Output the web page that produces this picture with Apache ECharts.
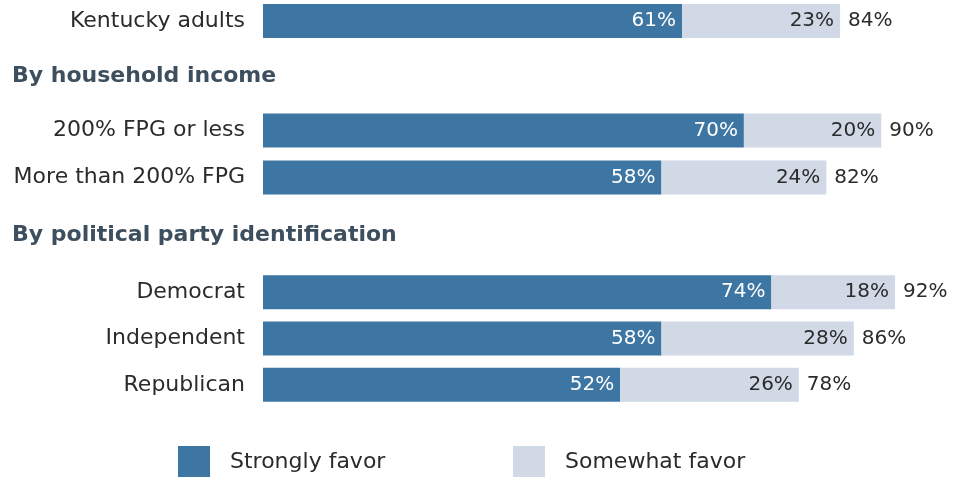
<!DOCTYPE html>
<html>
<head>
<meta charset="utf-8">
<script src="https://cdn.jsdelivr.net/npm/echarts@6/dist/echarts.min.js"></script>
<style>
  html, body { margin: 0; padding: 0; background: #fff; }
  #chart { width: 963px; height: 477px; }
</style>
</head>
<body>
<div id="chart"></div>
<script>
// groups of rows, each drawn in its own grid
const groupTitles = ['', 'By household income', 'By political party identification']
const groupCats = [
  ['Kentucky adults'],
  ['200% FPG or less', 'More than 200% FPG'],
  ['Democrat', 'Independent', 'Republican']
]
const strongVals = [[61], [70, 58], [74, 58, 52]]
const someVals = [[23], [20, 24], [18, 28, 26]]
const totalVals = [[84], [90, 82], [92, 86, 78]]

const FONT = 'DejaVu Sans'
const STRONG = '#3d76a2'
const SOME = '#d1d9e6'
const TEXT = '#2b2b2b'

const gridPos = [
  { top: 4, height: 34 },
  { top: 107, height: 94 },
  { top: 269, height: 139 }
]

const grids = [], xAxes = [], yAxes = [], series = []
groupCats.forEach((cats, g) => {
  grids.push({ left: 263, right: 13, top: gridPos[g].top, height: gridPos[g].height })
  xAxes.push({ gridIndex: g, type: 'value', min: 0, max: 100, show: false })
  yAxes.push({
    gridIndex: g, type: 'category', data: cats, inverse: true,
    axisLine: { show: false }, axisTick: { show: false },
    axisLabel: { color: TEXT, fontSize: 22, fontFamily: FONT, margin: 18 }
  })
  const lab = (color) => ({
    show: true, position: 'insideRight', distance: 6, color: color,
    fontSize: 20, fontFamily: FONT, formatter: p => p.value + '%'
  })
  series.push({
    name: 'Strongly favor', type: 'bar', stack: 'g' + g, xAxisIndex: g, yAxisIndex: g,
    data: strongVals[g], barWidth: 34, itemStyle: { color: STRONG }, label: lab('#fff')
  })
  series.push({
    name: 'Somewhat favor', type: 'bar', stack: 'g' + g, xAxisIndex: g, yAxisIndex: g,
    data: someVals[g], barWidth: 34, itemStyle: { color: SOME }, label: lab(TEXT)
  })
  series.push({
    name: 'Total', type: 'bar', stack: 'g' + g, xAxisIndex: g, yAxisIndex: g,
    data: totalVals[g].map(() => 0), barWidth: 34, itemStyle: { color: 'transparent' },
    label: {
      show: true, position: 'right', distance: 8, color: TEXT, fontSize: 20, fontFamily: FONT,
      formatter: p => totalVals[g][p.dataIndex] + '%'
    }
  })
})

const headerY = [0, 78, 237]
const graphics = groupTitles.map((t, i) => t ? {
  type: 'text', left: 12, top: headerY[i] - 13,
  style: { text: t, fill: '#3d4f5e', font: 'bold 22px ' + FONT }
} : null).filter(Boolean)

const legendBase = {
  top: 441, itemWidth: 32, itemHeight: 32, itemGap: 20, icon: 'rect',
  textStyle: { color: TEXT, fontSize: 22, fontFamily: FONT, padding: [0, 0, 0, 15] }
}

const chart = echarts.init(document.getElementById('chart'))
chart.setOption({
  animation: false,
  grid: grids,
  xAxis: xAxes,
  yAxis: yAxes,
  legend: [
    Object.assign({ left: 173, data: ['Strongly favor'] }, legendBase),
    Object.assign({ left: 508, data: ['Somewhat favor'] }, legendBase)
  ],
  graphic: graphics,
  series: series
})
</script>
</body>
</html>
